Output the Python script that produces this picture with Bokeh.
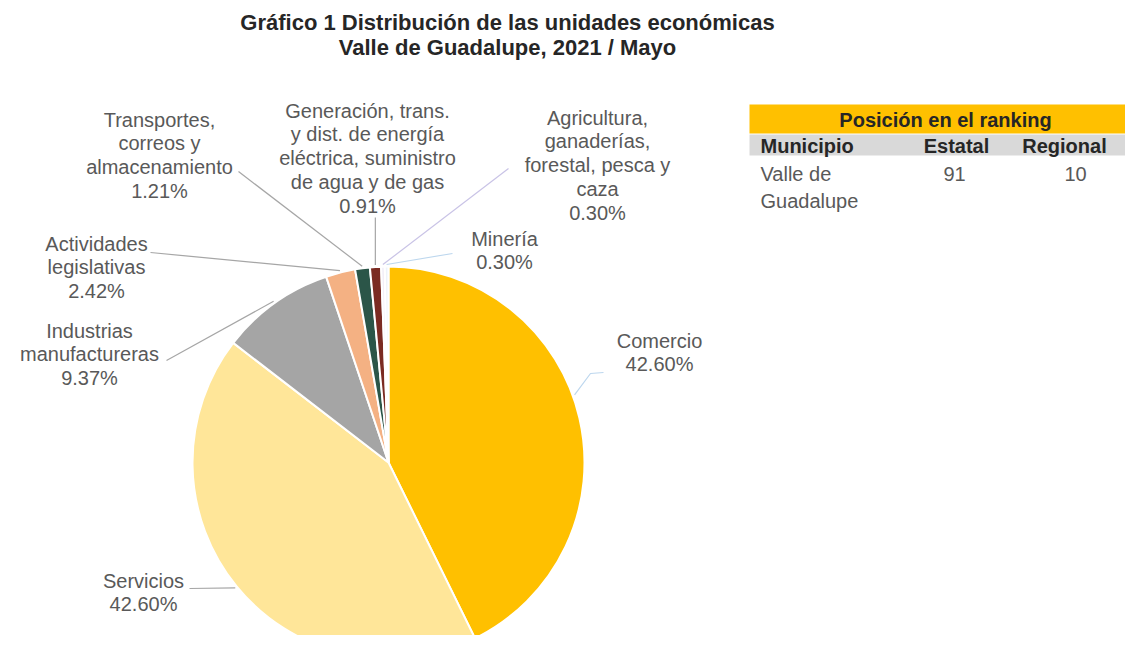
import numpy as np
from bokeh.plotting import figure
from bokeh.models import Range1d
from bokeh.embed import file_html
from bokeh.resources import INLINE
from bokeh.core.properties import value

# ---------------- data ----------------
categories = [
    "Comercio",
    "Servicios",
    "Industrias manufactureras",
    "Actividades legislativas",
    "Transportes, correos y almacenamiento",
    "Generación, trans. y dist. de energía eléctrica, suministro de agua y de gas",
    "Agricultura, ganaderías, forestal, pesca y caza",
    "Minería",
]
shares = [42.60, 42.60, 9.37, 2.42, 1.21, 0.91, 0.30, 0.30]
slice_colors = ["#FFC000", "#FFE699", "#A5A5A5", "#F4B183", "#2B5548", "#7B2B22", "#F2EFF8", "#EEF4FA"]

# wrapped label lines for each category (the percentage is appended from shares)
label_wrap = [
    ["Comercio"],
    ["Servicios"],
    ["Industrias", "manufactureras"],
    ["Actividades", "legislativas"],
    ["Transportes,", "correos y", "almacenamiento"],
    ["Generación, trans.", "y dist. de energía", "eléctrica, suministro", "de agua y de gas"],
    ["Agricultura,", "ganaderías,", "forestal, pesca y", "caza"],
    ["Minería"],
]

title_lines = ["Gráfico 1 Distribución de las unidades económicas",
               "Valle de Guadalupe, 2021 / Mayo"]

table_title = "Posición en el ranking"
table_cols = ["Municipio", "Estatal", "Regional"]
table_muni = ["Valle de", "Guadalupe"]
rank_estatal = 91
rank_regional = 10

# ---------------- layout ----------------
W, H = 1125, 635
def Y(img_y):
    return 651 - img_y

p = figure(width=W, height=H, x_range=Range1d(0, W), y_range=Range1d(Y(H), Y(0)),
           output_backend="svg", toolbar_location=None, min_border=0)
p.axis.visible = False
p.grid.visible = False
p.outline_line_color = None
p.background_fill_color = "white"

FONT = value("Liberation Sans")
GRAY = "#595959"

# pie
cx, cy, r = 388, Y(462), 196
vals = np.array(shares)
frac = vals / vals.sum()
cum = np.concatenate([[0.0], np.cumsum(frac)])
start = np.pi / 2 - 2 * np.pi * cum[:-1]
end = np.pi / 2 - 2 * np.pi * cum[1:]
mid = (start + end) / 2
p.wedge(x=cx, y=cy, radius=r, start_angle=start, end_angle=end, direction="clock",
        fill_color=slice_colors, line_color="white", line_width=2)

# labels: (center x, first line y) in page pixels
label_pos = [(659, 340), (143, 580), (89, 330), (96, 243), (159, 119), (367, 110), (597, 117), (504, 238)]
LS = 23.8
tx, ty, tt = [], [], []
for (lx, ly), lines, v in zip(label_pos, label_wrap, shares):
    allines = lines + [f"{v:.2f}%"]
    for i, s in enumerate(allines):
        tx.append(lx)
        ty.append(Y(ly + i * LS))
        tt.append(s)
p.text(x=tx, y=ty, text=tt, text_font=FONT, text_font_size="20px", text_color=GRAY,
       text_align="center", text_baseline="middle")

# leader lines: start point near label -> point on slice edge
leader_start = [[(603, 372), (590, 373)], [(189, 588)], [(166, 360)], [(150, 252)],
                [(238, 171)], [(None, 217)], [(508, 168)], [(452, 253)]]
leader_colors = ["#BDD7EE", "#A6A6A6", "#A6A6A6", "#A6A6A6", "#A6A6A6", "#A6A6A6", "#C9C3E6", "#BDD7EE"]
leader_angle = mid.copy()
leader_angle[0] = np.pi / 2 - np.deg2rad(70)
xs, ys = [], []
for pts, a in zip(leader_start, leader_angle):
    ex = cx + (r + 2) * np.cos(a)
    ey = cy + (r + 2) * np.sin(a)
    lx = [ex if px is None else px for px, py in pts] + [ex]
    ly = [Y(py) for px, py in pts] + [ey]
    xs.append(lx)
    ys.append(ly)
p.multi_line(xs=xs, ys=ys, line_color=leader_colors, line_width=1.2)

# title
p.text(x=[507, 507], y=[Y(22), Y(47)], text=title_lines, text_font=FONT, text_font_size="22px",
       text_font_style="bold", text_color="#262626", text_align="center", text_baseline="middle")

# ranking table
p.quad(left=[749, 749], right=[W, W], top=[Y(104), Y(134)], bottom=[Y(133), Y(155)],
       fill_color=["#FFC000", "#D9D9D9"], line_color=None)
p.text(x=[945], y=[Y(119)], text=[table_title], text_font=FONT, text_font_size="20px",
       text_font_style="bold", text_color="#262626", text_align="center", text_baseline="middle")
p.text(x=[760], y=[Y(145)], text=[table_cols[0]], text_font=FONT, text_font_size="20px",
       text_font_style="bold", text_color="#262626", text_align="left", text_baseline="middle")
p.text(x=[956, 1064], y=[Y(145), Y(145)], text=table_cols[1:], text_font=FONT, text_font_size="20px",
       text_font_style="bold", text_color="#262626", text_align="center", text_baseline="middle")
p.text(x=[760, 760], y=[Y(173), Y(200)], text=table_muni, text_font=FONT, text_font_size="20px",
       text_color=GRAY, text_align="left", text_baseline="middle")
p.text(x=[954, 1075], y=[Y(173), Y(173)], text=[str(rank_estatal), str(rank_regional)], text_font=FONT,
       text_font_size="20px", text_color=GRAY, text_align="center", text_baseline="middle")

open("out.html", "w").write(file_html(p, INLINE))
